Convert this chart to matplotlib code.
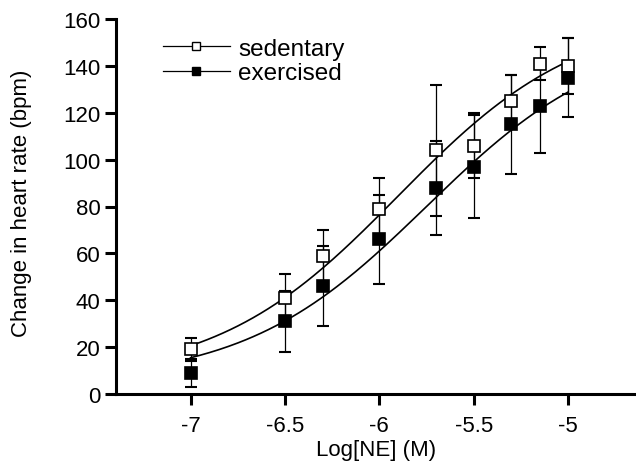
import numpy as np
import matplotlib
matplotlib.use("Agg")
import matplotlib.pyplot as plt
from matplotlib.lines import Line2D

plt.rcParams["font.family"] = ["Liberation Sans", "DejaVu Sans"]

# log concentration of NE
log_ne = [-7, -6.5, -6.3, -6, -5.7, -5.5, -5.3, -5.15, -5]

sedentary = [19, 41, 59, 79, 104, 106, 125, 141, 140]
sedentary_err = [5, 10, 11, 13, 28, 14, 11, 7, 12]

exercised = [9, 31, 46, 66, 88, 97, 115, 123, 135]
exercised_err = [6, 13, 17, 19, 20, 22, 21, 20, 17]

# sigmoid fit parameters: bottom, top, logEC50, hill
sed_fit = (6, 163, -5.9, 0.9)
exe_fit = (5, 155, -5.75, 0.9)


def sigmoid(x, p):
    bottom, top, ec50, hill = p
    return bottom + (top - bottom) / (1 + 10 ** ((ec50 - x) * hill))


fig = plt.figure(figsize=(6.36, 4.64), dpi=100)
ax = fig.add_axes([116 / 636, 1 - 395 / 464, 1 - 116 / 636, 375 / 464])

xs = np.linspace(-7, -5, 200)
ax.plot(xs, sigmoid(xs, sed_fit), color="black", lw=1.2, zorder=2)
ax.plot(xs, sigmoid(xs, exe_fit), color="black", lw=1.2, zorder=2)

ax.errorbar(log_ne, sedentary, yerr=sedentary_err, fmt="none", ecolor="black",
            elinewidth=0.9, capsize=4, capthick=1.5, zorder=3)
ax.errorbar(log_ne, exercised, yerr=exercised_err, fmt="none", ecolor="black",
            elinewidth=0.9, capsize=4, capthick=1.5, zorder=3)
ax.plot(log_ne, sedentary, "s", ms=8, mfc="white", mec="black", mew=1.2,
        ls="none", zorder=4)
ax.plot(log_ne, exercised, "s", ms=8, mfc="black", mec="black", mew=1.2,
        ls="none", zorder=4)

ax.set_xlim(-7.395, -4.64)
ax.set_ylim(0, 160)
ax.set_xticks([-7, -6.5, -6, -5.5, -5])
ax.set_xticklabels(["-7", "-6.5", "-6", "-5.5", "-5"])
ax.set_yticks(range(0, 161, 20))

for side in ["top", "right"]:
    ax.spines[side].set_visible(False)
for side in ["left", "bottom"]:
    ax.spines[side].set_linewidth(2.2)
ax.spines["left"].set_bounds(0, 160)
ax.tick_params(width=2.2, length=8, labelsize=16, direction="out")
ax.tick_params(axis="y", pad=3)
ax.tick_params(axis="x", pad=7)

ax.set_xlabel("Log[NE] (M)", fontsize=16, labelpad=2)
ax.set_ylabel("Change in heart rate (bpm)", fontsize=16)
ax.yaxis.set_label_coords(-0.1615, 0.511)

handles = [
    Line2D([], [], color="black", lw=0.9, marker="s", ms=5.5, mfc="white", mec="black"),
    Line2D([], [], color="black", lw=0.9, marker="s", ms=5.5, mfc="black", mec="black"),
]
ax.legend(handles, ["sedentary", "exercised"], loc="upper left",
          bbox_to_anchor=(0.09, 0.95), frameon=False, fontsize=17.5,
          handlelength=2.76, handletextpad=0.33, labelspacing=0.1,
          borderaxespad=0, borderpad=0)

fig.savefig("out.png", dpi=100)
